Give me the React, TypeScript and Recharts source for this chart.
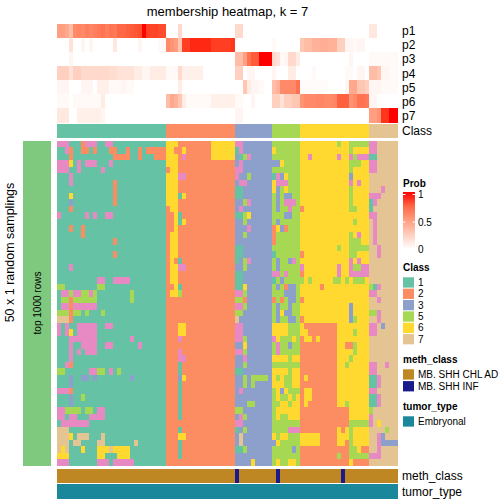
import React from "react";
import { BarChart, Bar, Cell, XAxis, YAxis } from "recharts";

// block widths of the column groups (class 1,2,3,5,6,7)
const BLOCKS = [27, 17, 9, 7, 17, 7];

// class of each sample
const sampleClass = "111111111111111111111111111 22222222222222222 333333333 5555555 66666666666666666 7777777";
const methClass = "CCCCCCCCCCCCCCCCCCCCCCCCCCC CCCCCCCCCCCCCCCCC ICCCCCCCC CICCCCC CCCCCCCCCCICCCCCC CCCCCCC";
const tumorType = "EEEEEEEEEEEEEEEEEEEEEEEEEEE EEEEEEEEEEEEEEEEE EEEEEEEEE EEEEEEE EEEEEEEEEEEEEEEEE EEEEEEE";

// membership probabilities
const p1 = [
  0.5, 0.5, 0.45, 0.35, 0.6, 0.62, 0.6, 0.65, 0.62, 0.65, 0.68, 0.7, 0.65, 0.7, 0.68, 0.75, 0.75, 0.78, 0.8, 0.82, 0.85, 1, 0.9, 0.88, 0.88, 0.86, 0.86,
  0, 0, 0, 0.2, 0, 0, 0, 0, 0, 0, 0, 0, 0, 0, 0, 0, 0,
  0.2, 0.2, 0, 0, 0, 0, 0, 0, 0,
  0, 0, 0, 0, 0, 0, 0,
  0, 0, 0, 0, 0, 0, 0, 0, 0, 0, 0, 0, 0, 0, 0, 0, 0,
  0.12, 0.12, 0, 0, 0, 0, 0,
];
const p2 = [
  0, 0, 0, 0.15, 0, 0, 0.05, 0, 0.05, 0, 0, 0, 0, 0, 0.12, 0, 0, 0, 0, 0, 0.05, 0, 0, 0, 0, 0.03, 0.03,
  0.6, 0.55, 0.5, 0.3, 0.9, 0.9, 0.95, 0.95, 0.95, 0.95, 0.95, 0.9, 0.9, 0.9, 0.9, 0.9, 0.92,
  0, 0, 0, 0, 0, 0, 0, 0, 0,
  0.03, 0, 0, 0, 0, 0, 0,
  0.3, 0.35, 0.35, 0.4, 0.4, 0.42, 0.42, 0.4, 0.4, 0.25, 0.25, 0.05, 0.05, 0.03, 0.05, 0.05, 0,
  0, 0, 0, 0, 0, 0, 0,
];
const p3 = [
  0, 0, 0, 0.05, 0, 0, 0, 0, 0, 0, 0, 0, 0, 0, 0, 0, 0, 0, 0, 0, 0, 0, 0, 0, 0, 0, 0,
  0, 0, 0, 0, 0, 0, 0, 0, 0, 0, 0, 0, 0, 0, 0, 0, 0,
  0.35, 0.35, 0.5, 0.7, 0.8, 0.8, 1, 1, 1,
  0.2, 0.15, 0.03, 0.05, 0.2, 0.2, 0.1,
  0, 0, 0, 0, 0, 0, 0, 0, 0, 0, 0, 0, 0.05, 0, 0, 0, 0,
  0.03, 0.03, 0.03, 0.03, 0.03, 0.03, 0.03,
];
const p4 = [
  0.25, 0.25, 0.25, 0.15, 0.25, 0.25, 0.2, 0.2, 0.2, 0.2, 0.2, 0.2, 0.2, 0.18, 0.18, 0.15, 0.15, 0.15, 0.15, 0.1, 0.1, 0.05, 0.05, 0.1, 0.1, 0.1, 0.1,
  0.03, 0.03, 0.03, 0.2, 0.08, 0.08, 0.08, 0.08, 0.08, 0, 0, 0, 0, 0, 0, 0, 0,
  0.25, 0.25, 0, 0.05, 0.05, 0, 0, 0, 0,
  0.05, 0, 0, 0, 0.1, 0.1, 0,
  0, 0, 0, 0.03, 0, 0, 0, 0, 0, 0, 0, 0.03, 0.03, 0, 0.05, 0.05, 0,
  0.35, 0.35, 0.3, 0.05, 0.05, 0.03, 0.03,
];
const p5 = [
  0.05, 0.05, 0.05, 0, 0, 0, 0.05, 0.05, 0.05, 0, 0.08, 0.08, 0.08, 0.03, 0.03, 0.03, 0.05, 0.03, 0.03, 0, 0, 0, 0, 0, 0, 0, 0,
  0, 0, 0, 0.1, 0, 0, 0, 0, 0, 0, 0, 0, 0, 0, 0, 0, 0,
  0, 0, 0.3, 0.1, 0.05, 0.05, 0.03, 0, 0,
  0.35, 0.4, 0.6, 0.6, 0.6, 0.6, 0.7,
  0.02, 0.02, 0.02, 0.02, 0.02, 0.02, 0.02, 0, 0, 0, 0, 0.05, 0.45, 0.45, 0.3, 0.3, 0.25,
  0.05, 0.05, 0.05, 0.03, 0.03, 0.03, 0.03,
];
const p6 = [
  0.03, 0.03, 0.03, 0, 0.03, 0.03, 0.03, 0.03, 0.03, 0.03, 0.03, 0.1, 0, 0, 0, 0, 0, 0, 0, 0, 0, 0, 0, 0, 0, 0, 0,
  0.35, 0.45, 0.4, 0.3, 0.1, 0.03, 0.03, 0.03, 0.03, 0.03, 0.03, 0.08, 0.08, 0.08, 0.08, 0.08, 0.08,
  0.03, 0.03, 0, 0, 0.05, 0, 0, 0, 0,
  0.25, 0.25, 0.15, 0.25, 0.25, 0.3, 0.3,
  0.55, 0.6, 0.6, 0.6, 0.62, 0.62, 0.6, 0.6, 0.62, 0.78, 0.78, 0.78, 0.55, 0.6, 0.7, 0.7, 0.68,
  0.05, 0.05, 0, 0, 0, 0, 0,
];
const p7 = [
  0.12, 0.12, 0.12, 0, 0, 0.08, 0.08, 0.08, 0.08, 0.08, 0.08, 0.05, 0, 0, 0, 0, 0, 0, 0, 0, 0, 0, 0, 0, 0, 0, 0,
  0, 0, 0, 0, 0, 0, 0, 0, 0, 0, 0, 0, 0, 0, 0, 0, 0,
  0.05, 0.05, 0, 0, 0, 0, 0, 0, 0,
  0, 0, 0, 0, 0, 0, 0,
  0, 0, 0, 0, 0, 0, 0, 0, 0, 0, 0, 0, 0, 0, 0, 0, 0,
  0.5, 0.5, 0.55, 0.92, 0.92, 1, 1,
];
const probLabels = ["p1", "p2", "p3", "p4", "p5", "p6", "p7"];

// class predicted in each of the 50 random samplings (one string per sampling)
const samplingRows = [
  "444111244411441111111111111 66622222222666666 443333333 5555555 66666666656655555 4477777",
  "114211221211122112112122222 66226222222666666 143333333 6555555 66666666666656666 4477777",
  "111211111111112222112111222 66624222222666666 315433333 5555555 66466666646645444 1177777",
  "444614144411141111111111111 66622222222222222 343333333 3365555 66666666666655566 4477777",
  "444114111114111111111111111 26622222222222222 443333333 5555555 66666666666656666 4477777",
  "111411111111111111111111111 66644222222222222 433533333 1436555 66666666666636666 7777777",
  "111411111111112111111111111 66622222222222222 344333333 6444555 66666666666646466 7777777",
  "111111111111112111111111111 66622222222222222 113333333 6356555 66666666666656666 7774777",
  "111611111111112111111111111 66616222222222222 113333333 5353355 66666666666656666 4447777",
  "111311111111112111111111111 66622222222222222 335433333 5354445 66666666666656666 1477777",
  "111211111111111111111111111 26622222222222222 343333333 5355455 26666666666655666 1777777",
  "411111141411441111111111111 22612222222222222 115633333 5553355 66666666666666666 4477777",
  "111111111111111111111111111 22616222222222222 335333333 5355555 66666666666665666 7477777",
  "111211211111111111111111111 22622222222222222 333433333 2632555 66666666666666666 7477777",
  "111111211111111111111111111 26622222222222222 335333333 2555555 66666666666656466 7477777",
  "111111111111112111111111111 26622222222222222 333333333 2555555 66666666666655566 7477777",
  "111111111111111111111111111 26622222222222222 113333333 5555555 66666666656655555 7747777",
  "111111111111112111111111111 26622222222222222 113333333 1555555 26666666666655666 7747777",
  "111111111111111111111111111 26212222222222222 135433333 5355345 66666666666646466 7777777",
  "111411111111111111111111111 26644222222222222 335333333 5355555 46666666646645544 7777777",
  "111111111111111111111111111 26622222222222222 113333333 4454555 26666666646644444 7777777",
  "111111111144114444111111111 26622222222222222 113333333 1535555 56566666556565556 7777777",
  "551111111155111111111111111 22612222222222222 116333333 5352335 66666266666666666 5147777",
  "144544554511111111511111111 26652222222222222 445333333 5553335 66666666666666666 4477777",
  "155255555511111111511111111 22222222222222222 552333333 2525335 26666666666666666 7747777",
  "144244444411111111111111111 22222222222222222 445333333 5355355 66666666666636666 7777777",
  "555255151115111111111111111 22222222222222222 553333333 5363355 66666666666636666 5547777",
  "777211111111111111111111111 22222222222222222 733333333 5355335 26666666666635666 7747777",
  "414114444411441111111111111 22266222222222222 443333333 6666555 62222222266666666 4473777",
  "414614444411111111111111111 22266222222222222 443333333 6666555 66222222266665666 4477777",
  "111444444411111111411111111 22242222222222222 445333333 4655565 26626222266666666 7777777",
  "111411444411441111114111111 22222222222222222 336333333 5455355 22222222266225666 7777777",
  "111414144411111111111111111 22242222222222222 445333333 5455555 22222222266665666 7777777",
  "111411111111111111111111111 22244222222222222 334333333 6666566 22222222266656666 7777777",
  "114211111111111111111111111 22212222222222222 335333333 5555555 22222222266566666 4477477",
  "551111114455141511111111111 22212222222222222 113333333 6666566 22222222266666666 4477777",
  "111311331311111111311111111 22236222222222222 335355553 6565566 26222222266666666 1147777",
  "111311111111111111111111111 22212222222222222 335353333 6665566 22222222266666666 1147777",
  "444211111111111111111111111 22212222222222222 343333333 5636555 26622222266666666 4477777",
  "111311511111111111111111111 22212222222222222 333333333 5655656 26622222266666666 1147777",
  "111311111111111111111111111 22212222222222222 333553333 5566566 26222222266566666 1147777",
  "445555155144111111111111111 22212222222222222 553333333 5666666 22222222222266666 5777777",
  "441441114444111111111111111 22212222222222222 345333333 5655666 22222222222266666 4777777",
  "144444441111111111111111111 22222222222222222 443333333 5555555 22222222222255555 4767777",
  "777111111111111111111111111 22212222222222222 135333333 5555444 22222222262656666 7777577",
  "777617771117111111111111111 22266222222222222 373333333 6566555 66666222266656666 7743777",
  "777177111177111111171111111 22212222222222222 373333333 3655555 66666222266256666 7743333",
  "767111611166676666111111111 22212222222222222 115333333 5555535 22222222222255622 7747777",
  "666111111166111666111111111 22212222222222222 333333333 5555555 22222222252255555 4447777",
  "444111111144414444411111111 22222222222222222 333363333 5655665 22222222222262222 7777777",
];

const classLegend = ["1", "2", "3", "5", "6", "7"];
const methLegend = ["MB. SHH CHL AD", "MB. SHH INF"];
const tumorLegend = ["Embryonal"];

const CLASS_COLORS: Record<string, string> = {
  "1": "#66C2A5",
  "2": "#FC8D62",
  "3": "#8DA0CB",
  "4": "#E78AC3",
  "5": "#A6D854",
  "6": "#FFD92F",
  "7": "#E5C494",
};
const METH_COLORS: Record<string, string> = { C: "#BF8624", I: "#1A1A8A" };
const TUMOR_COLORS: Record<string, string> = { E: "#1B879A" };

// split a row into its blocks, keep each block at its width
const parseRow = (s: string) =>
  s
    .split(" ")
    .map((b, i) => {
      const w = BLOCKS[i];
      let out = b.slice(0, w);
      while (out.length < w) out += b[b.length - 1];
      return out;
    })
    .join("")
    .split("");

// white -> red in Lab space, like colorRamp2
const probColor = (p: number) => {
  const L = 100 + (53.24 - 100) * p;
  const A = 80.09 * p;
  const B = 67.2 * p;
  const fy = (L + 16) / 116;
  const fx = fy + A / 500;
  const fz = fy - B / 200;
  const inv = (t: number) => (t ** 3 > 0.008856 ? t ** 3 : (t - 16 / 116) / 7.787);
  const X = 0.95047 * inv(fx);
  const Y = inv(fy);
  const Z = 1.08883 * inv(fz);
  const lin = [
    3.2404542 * X - 1.5371385 * Y - 0.4985314 * Z,
    -0.969266 * X + 1.8760108 * Y + 0.041556 * Z,
    0.0556434 * X - 0.2040259 * Y + 1.0572252 * Z,
  ];
  const ch = lin.map((c) => {
    const v = c <= 0.0031308 ? 12.92 * c : 1.055 * Math.pow(c, 1 / 2.4) - 0.055;
    return Math.round(Math.max(0, Math.min(1, v)) * 255);
  });
  return `rgb(${ch[0]},${ch[1]},${ch[2]})`;
};

const LEFT = 57;
const WIDTH = 341;
const FONT = "'Liberation Sans', Arial, Helvetica, sans-serif";

type BandProps = {
  rows: (string | number)[][];
  colorOf: (v: any) => string;
  top: number;
  height: number;
};

const Band = ({ rows, colorOf, top, height }: BandProps) => {
  const nCols = rows[0].length;
  const data = Array.from({ length: nCols }, (_, c) => {
    const d: Record<string, number> = { col: c };
    rows.forEach((_, r) => (d["r" + r] = 1));
    return d;
  });
  return (
    <div
      className="hm"
      style={{ position: "absolute", left: LEFT, top, width: WIDTH, height, overflow: "hidden" }}
    >
      <BarChart
        width={WIDTH}
        height={height}
        data={data}
        margin={{ top: 0, right: 0, bottom: 0, left: 0 }}
        barCategoryGap={0}
        barGap={0}
      >
        <XAxis dataKey="col" hide />
        <YAxis type="number" domain={[0, rows.length]} reversed hide />
        {rows.map((row, r) => (
          <Bar key={r} dataKey={"r" + r} stackId="s" isAnimationActive={false}>
            {row.map((v, c) => {
              const col = colorOf(v);
              return <Cell key={c} fill={col} stroke={col} strokeWidth={1} />;
            })}
          </Bar>
        ))}
      </BarChart>
    </div>
  );
};

const App = () => {
  const probRows = [p1, p2, p3, p4, p5, p6, p7];
  const mainRows = samplingRows.map(parseRow);
  const pRowH = 99 / 7;

  return (
    <div
      style={{
        position: "absolute",
        left: 0,
        top: 0,
        width: 504,
        height: 504,
        background: "#fff",
        fontFamily: FONT,
      }}
    >
      <style>{`.hm svg path { shape-rendering: crispEdges; }`}</style>

      <Band rows={probRows} colorOf={probColor} top={24} height={99} />
      <Band rows={[parseRow(sampleClass)]} colorOf={(v) => CLASS_COLORS[v]} top={124} height={14} />
      <Band rows={mainRows} colorOf={(v) => CLASS_COLORS[v]} top={141} height={325} />
      <Band rows={[parseRow(methClass)]} colorOf={(v) => METH_COLORS[v]} top={469} height={14} />
      <Band rows={[parseRow(tumorType)]} colorOf={(v) => TUMOR_COLORS[v]} top={484} height={15} />

      <svg
        width={504}
        height={504}
        style={{ position: "absolute", left: 0, top: 0, pointerEvents: "none" }}
        fontFamily={FONT}
      >
        <defs>
          <linearGradient id="probGrad" x1="0" y1="1" x2="0" y2="0">
            {[0, 0.25, 0.5, 0.75, 1].map((p) => (
              <stop key={p} offset={p} stopColor={probColor(p)} />
            ))}
          </linearGradient>
        </defs>

        <text x={227.5} y={16} fontSize={13} textAnchor="middle" fill="#000">
          membership heatmap, k = 7
        </text>

        {probLabels.map((t, i) => (
          <text key={t} x={402} y={24 + pRowH * (i + 0.5)} fontSize={12} dominantBaseline="central">
            {t}
          </text>
        ))}
        <text x={402} y={131} fontSize={12} dominantBaseline="central">Class</text>
        <text x={402} y={476} fontSize={12} dominantBaseline="central">meth_class</text>
        <text x={402} y={491.5} fontSize={12} dominantBaseline="central">tumor_type</text>

        {/* left annotation */}
        <rect x={23} y={141} width={28} height={325} fill="#7FC97F" />
        <text
          transform="translate(37,303) rotate(-90)"
          fontSize={10}
          textAnchor="middle"
          dominantBaseline="central"
        >
          top 1000 rows
        </text>
        <text
          transform="translate(10,252.5) rotate(-90)"
          fontSize={12.5}
          textAnchor="middle"
          dominantBaseline="central"
        >
          50 x 1 random samplings
        </text>

        {/* Prob legend */}
        <text x={403} y={187} fontSize={10} fontWeight="bold">Prob</text>
        <rect x={403} y={192} width={12} height={57} fill="url(#probGrad)" />
        {[194.5, 222, 248.5].map((y) => (
          <g key={y} stroke="#fff" strokeWidth={1}>
            <line x1={403} x2={405.5} y1={y} y2={y} />
            <line x1={412.5} x2={415} y1={y} y2={y} />
          </g>
        ))}
        <text x={418} y={194.5} fontSize={10} dominantBaseline="central">1</text>
        <text x={418} y={222} fontSize={10} dominantBaseline="central">0.5</text>
        <text x={418} y={249.5} fontSize={10} dominantBaseline="central">0</text>

        {/* Class legend */}
        <text x={403} y={271} fontSize={10} fontWeight="bold">Class</text>
        {classLegend.map((c, i) => (
          <g key={c}>
            <rect x={403} y={277.3 + 11.35 * i} width={11} height={10.3} fill={CLASS_COLORS[c]} />
            <text x={418} y={282.5 + 11.35 * i} fontSize={10} dominantBaseline="central">{c}</text>
          </g>
        ))}

        {/* meth_class legend */}
        <text x={403} y={363} fontSize={10} fontWeight="bold">meth_class</text>
        {methLegend.map((m, i) => (
          <g key={m}>
            <rect x={403} y={369.3 + 11.8 * i} width={11} height={10.3} fill={i === 0 ? METH_COLORS.C : METH_COLORS.I} />
            <text x={418} y={374.5 + 11.8 * i} fontSize={10} dominantBaseline="central">{m}</text>
          </g>
        ))}

        {/* tumor_type legend */}
        <text x={403} y={410} fontSize={10} fontWeight="bold">tumor_type</text>
        {tumorLegend.map((t) => (
          <g key={t}>
            <rect x={403} y={416.3} width={11} height={10.3} fill={TUMOR_COLORS.E} />
            <text x={418} y={421.5} fontSize={10} dominantBaseline="central">{t}</text>
          </g>
        ))}
      </svg>
    </div>
  );
};

export default App;
